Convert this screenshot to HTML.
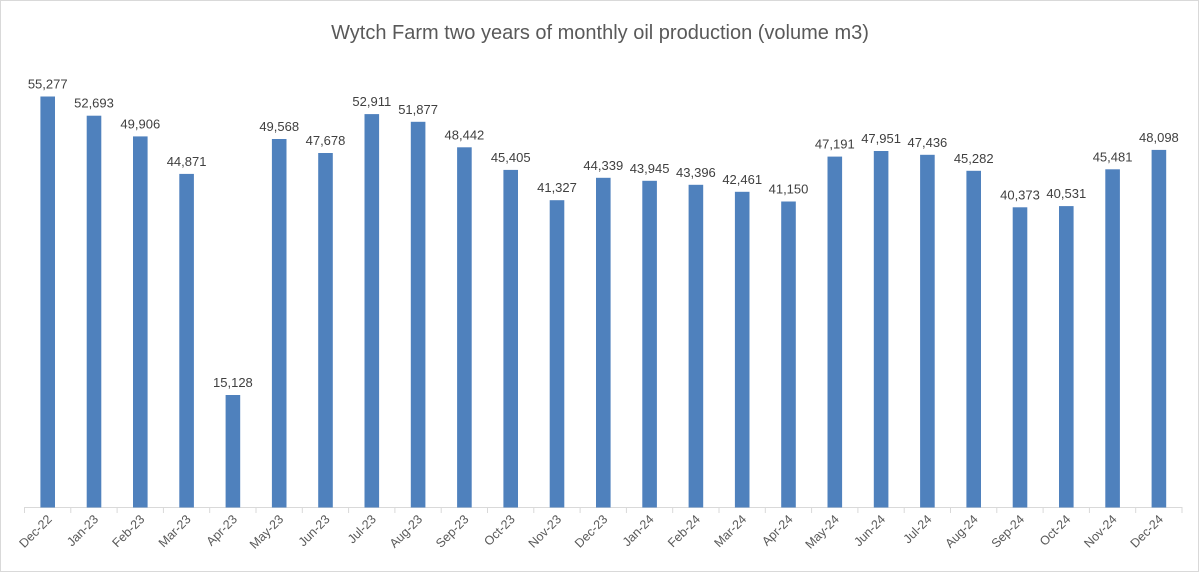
<!DOCTYPE html>
<html><head><style>body{margin:0;background:#fff}svg{display:block}</style></head><body>
<svg width="1200" height="573" xmlns="http://www.w3.org/2000/svg" font-family="Liberation Sans, sans-serif">
<rect x="0.5" y="0.5" width="1198" height="571" fill="#fff" stroke="#d9d9d9"/>
<text x="600" y="39" text-anchor="middle" font-size="20" fill="#595959">Wytch Farm two years of monthly oil production (volume m3)</text>
<line x1="24.5" y1="507.5" x2="1182" y2="507.5" stroke="#d9d9d9"/>
<line x1="1182" y1="507" x2="1182" y2="513" stroke="#d9d9d9"/>
<g fill="#4f81bd">
<rect x="40.4" y="96.5" width="14.6" height="411"/>
<rect x="86.7" y="115.7" width="14.6" height="391.8"/>
<rect x="133.0" y="136.4" width="14.6" height="371.1"/>
<rect x="179.3" y="173.9" width="14.6" height="333.6"/>
<rect x="225.6" y="395.0" width="14.6" height="112.5"/>
<rect x="271.9" y="139.0" width="14.6" height="368.5"/>
<rect x="318.2" y="153.0" width="14.6" height="354.5"/>
<rect x="364.5" y="114.1" width="14.6" height="393.4"/>
<rect x="410.8" y="121.8" width="14.6" height="385.7"/>
<rect x="457.1" y="147.3" width="14.6" height="360.2"/>
<rect x="503.4" y="169.9" width="14.6" height="337.6"/>
<rect x="549.7" y="200.2" width="14.6" height="307.3"/>
<rect x="596.0" y="177.8" width="14.6" height="329.7"/>
<rect x="642.3" y="180.8" width="14.6" height="326.7"/>
<rect x="688.6" y="184.8" width="14.6" height="322.7"/>
<rect x="734.9" y="191.8" width="14.6" height="315.7"/>
<rect x="781.2" y="201.5" width="14.6" height="306.0"/>
<rect x="827.5" y="156.6" width="14.6" height="350.9"/>
<rect x="873.8" y="151.0" width="14.6" height="356.5"/>
<rect x="920.1" y="154.8" width="14.6" height="352.7"/>
<rect x="966.4" y="170.8" width="14.6" height="336.7"/>
<rect x="1012.7" y="207.3" width="14.6" height="300.2"/>
<rect x="1059.0" y="206.1" width="14.6" height="301.4"/>
<rect x="1105.3" y="169.3" width="14.6" height="338.2"/>
<rect x="1151.6" y="149.9" width="14.6" height="357.6"/>
</g>
<g font-size="13" fill="#404040" text-anchor="middle">
<text x="47.7" y="88.5">55,277</text>
<text x="94.0" y="107.7">52,693</text>
<text x="140.3" y="128.4">49,906</text>
<text x="186.6" y="165.9">44,871</text>
<text x="232.9" y="387.0">15,128</text>
<text x="279.2" y="131.0">49,568</text>
<text x="325.5" y="145.0">47,678</text>
<text x="371.8" y="106.1">52,911</text>
<text x="418.1" y="113.8">51,877</text>
<text x="464.4" y="139.3">48,442</text>
<text x="510.7" y="161.9">45,405</text>
<text x="557.0" y="192.2">41,327</text>
<text x="603.3" y="169.8">44,339</text>
<text x="649.6" y="172.8">43,945</text>
<text x="695.9" y="176.8">43,396</text>
<text x="742.2" y="183.8">42,461</text>
<text x="788.5" y="193.5">41,150</text>
<text x="834.8" y="148.6">47,191</text>
<text x="881.1" y="143.0">47,951</text>
<text x="927.4" y="146.8">47,436</text>
<text x="973.7" y="162.8">45,282</text>
<text x="1020.0" y="199.3">40,373</text>
<text x="1066.3" y="198.1">40,531</text>
<text x="1112.6" y="161.3">45,481</text>
<text x="1158.9" y="141.9">48,098</text>
</g>
<g stroke="#d9d9d9">
<line x1="24.5" y1="507" x2="24.5" y2="513"/><line x1="70.8" y1="507" x2="70.8" y2="513"/><line x1="117.1" y1="507" x2="117.1" y2="513"/><line x1="163.4" y1="507" x2="163.4" y2="513"/><line x1="209.7" y1="507" x2="209.7" y2="513"/><line x1="256.0" y1="507" x2="256.0" y2="513"/><line x1="302.3" y1="507" x2="302.3" y2="513"/><line x1="348.6" y1="507" x2="348.6" y2="513"/><line x1="394.9" y1="507" x2="394.9" y2="513"/><line x1="441.2" y1="507" x2="441.2" y2="513"/><line x1="487.5" y1="507" x2="487.5" y2="513"/><line x1="533.8" y1="507" x2="533.8" y2="513"/><line x1="580.1" y1="507" x2="580.1" y2="513"/><line x1="626.4" y1="507" x2="626.4" y2="513"/><line x1="672.7" y1="507" x2="672.7" y2="513"/><line x1="719.0" y1="507" x2="719.0" y2="513"/><line x1="765.3" y1="507" x2="765.3" y2="513"/><line x1="811.6" y1="507" x2="811.6" y2="513"/><line x1="857.9" y1="507" x2="857.9" y2="513"/><line x1="904.2" y1="507" x2="904.2" y2="513"/><line x1="950.5" y1="507" x2="950.5" y2="513"/><line x1="996.8" y1="507" x2="996.8" y2="513"/><line x1="1043.1" y1="507" x2="1043.1" y2="513"/><line x1="1089.4" y1="507" x2="1089.4" y2="513"/><line x1="1135.7" y1="507" x2="1135.7" y2="513"/>
</g>
<g font-size="12.5" fill="#595959" text-anchor="end">
<text transform="translate(52.7,520) rotate(-45)">Dec-22</text>
<text transform="translate(99.0,520) rotate(-45)">Jan-23</text>
<text transform="translate(145.3,520) rotate(-45)">Feb-23</text>
<text transform="translate(191.6,520) rotate(-45)">Mar-23</text>
<text transform="translate(237.9,520) rotate(-45)">Apr-23</text>
<text transform="translate(284.2,520) rotate(-45)">May-23</text>
<text transform="translate(330.5,520) rotate(-45)">Jun-23</text>
<text transform="translate(376.8,520) rotate(-45)">Jul-23</text>
<text transform="translate(423.1,520) rotate(-45)">Aug-23</text>
<text transform="translate(469.4,520) rotate(-45)">Sep-23</text>
<text transform="translate(515.7,520) rotate(-45)">Oct-23</text>
<text transform="translate(562.0,520) rotate(-45)">Nov-23</text>
<text transform="translate(608.3,520) rotate(-45)">Dec-23</text>
<text transform="translate(654.6,520) rotate(-45)">Jan-24</text>
<text transform="translate(700.9,520) rotate(-45)">Feb-24</text>
<text transform="translate(747.2,520) rotate(-45)">Mar-24</text>
<text transform="translate(793.5,520) rotate(-45)">Apr-24</text>
<text transform="translate(839.8,520) rotate(-45)">May-24</text>
<text transform="translate(886.1,520) rotate(-45)">Jun-24</text>
<text transform="translate(932.4,520) rotate(-45)">Jul-24</text>
<text transform="translate(978.7,520) rotate(-45)">Aug-24</text>
<text transform="translate(1025.0,520) rotate(-45)">Sep-24</text>
<text transform="translate(1071.3,520) rotate(-45)">Oct-24</text>
<text transform="translate(1117.6,520) rotate(-45)">Nov-24</text>
<text transform="translate(1163.9,520) rotate(-45)">Dec-24</text>
</g>
</svg>
</body></html>
